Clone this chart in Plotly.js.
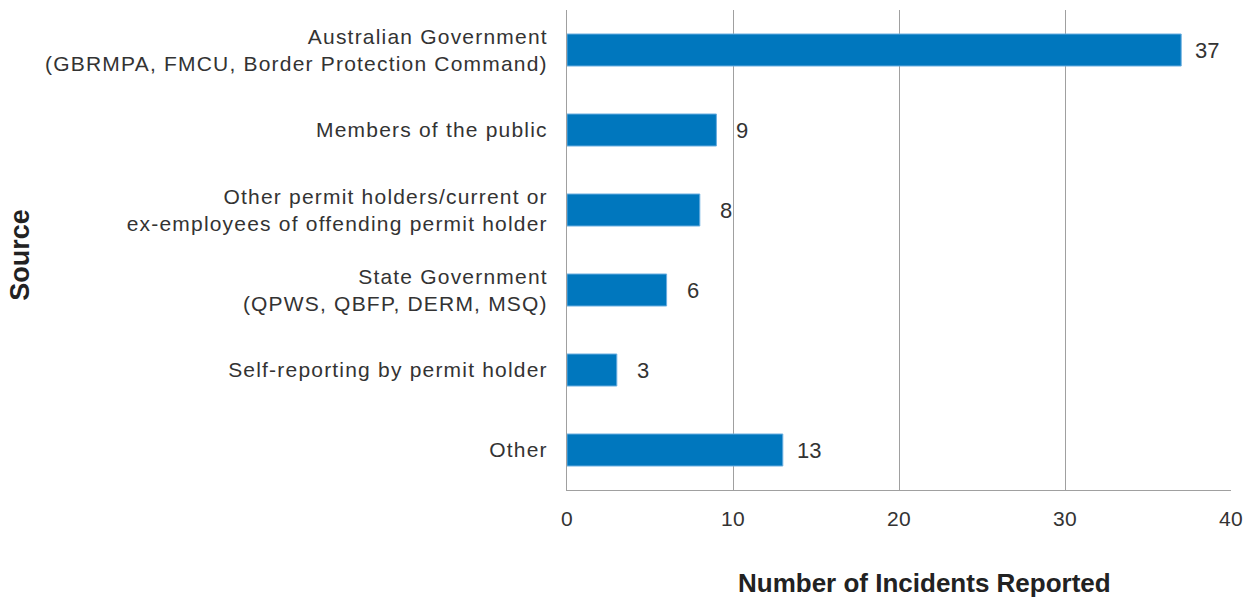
<!DOCTYPE html>
<html><head><meta charset="utf-8">
<script src="https://cdn.plot.ly/plotly-3.0.1.min.js"></script>
<style>
html,body{margin:0;padding:0;background:#fff}
#chart{width:1252px;height:599px}
#chart .ytick text{letter-spacing:1.2px}
#chart .xtick text{letter-spacing:0.3px}
</style>
</head><body><div id="chart"></div>
<script>
const categories = [
  "Australian Government<br>(GBRMPA, FMCU, Border Protection Command)",
  "Members of the public",
  "Other permit holders/current or<br>ex-employees of offending permit holder",
  "State Government<br>(QPWS, QBFP, DERM, MSQ)",
  "Self-reporting by permit holder",
  "Other"
];
const values = [37, 9, 8, 6, 3, 13];
const xTicks = [0, 10, 20, 30, 40];
const xTitle = 'Number of Incidents Reported';
const yTitle = 'Source';

const FONT = "Liberation Sans, Arial, sans-serif";
const trace = {
  type: 'bar', orientation: 'h',
  x: values, y: categories,
  width: 0.4,
  marker: {color: '#0077be', line: {color: '#6aaee0', width: 1}},
  hoverinfo: 'none'
};
const annotations = values.map((v, i) => ({
  x: v, y: categories[i], xref: 'x', yref: 'y',
  text: String(v), showarrow: false, xanchor: 'center', xshift: 26,
  font: {family: FONT, size: 22, color: '#333'}
}));
annotations.push({
  text: yTitle, xref: 'paper', yref: 'paper', x: -0.824, y: 0.49,
  textangle: -90, showarrow: false, xanchor: 'center', yanchor: 'middle',
  font: {family: FONT, size: 27, color: '#222', weight: 'bold'}
});
annotations.push({
  text: xTitle, xref: 'paper', yref: 'paper', x: 0.5377, y: -0.194,
  showarrow: false, xanchor: 'center', yanchor: 'middle',
  font: {family: FONT, size: 26, color: '#222', weight: 'bold'}
});
const layout = {
  width: 1252, height: 599,
  margin: {l: 567, r: 21, t: 10, b: 109},
  paper_bgcolor: '#fff', plot_bgcolor: '#fff',
  showlegend: false,
  xaxis: {
    range: [0, 40], tickvals: xTicks, showgrid: true, gridcolor: '#a0a0a0', gridwidth: 1,
    zeroline: false, showline: true, linecolor: '#a0a0a0', linewidth: 1,
    ticks: '', ticklabelstandoff: 10,
    tickfont: {family: FONT, size: 21, color: '#333'}
  },
  yaxis: {
    autorange: 'reversed', showline: true, linecolor: '#a0a0a0', linewidth: 1,
    ticks: '', ticklabelstandoff: 14, showgrid: false,
    tickfont: {family: FONT, size: 21, color: '#333'}
  },
  annotations: annotations
};
Plotly.newPlot('chart', [trace], layout, {displayModeBar: false, staticPlot: true});
</script></body></html>
